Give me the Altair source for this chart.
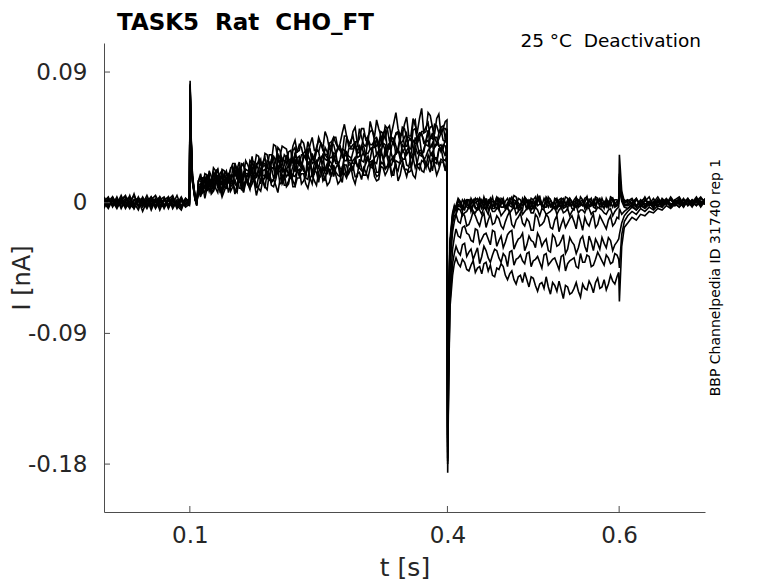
import altair as alt
import pandas as pd

NB = "\u00a0"
TITLE = "TASK5 " + NB + "Rat " + NB + "CHO_FT"
ANNOT = "25 °C " + NB + "Deactivation"
SIDE = "BBP Channelpedia ID 31740 rep 1"
X_TICKS = [0.1, 0.4, 0.6]
Y_TICKS = [0.09, 0, -0.09, -0.18]

# sample times (s) of each segment
T_BASE = [round(0.005 * i, 4) for i in range(20)] + [0.0995]
T_ON = [0.1003, 0.1015, 0.103, 0.106, 0.108]
T_RISE = [round(0.110 + 0.005 * j, 4) for j in range(58)] + [0.3995]
T_RISE_MID = [round(0.1125 + 0.005 * j, 4) for j in range(58)]
T_OFF = [0.4003, 0.4015, 0.403, 0.406, 0.408]
T_TAIL = [round(0.410 + 0.005 * i, 4) for i in range(38)] + [0.5995]
T_TAIL_MID = [round(0.4125 + 0.005 * i, 4) for i in range(38)]
T_END = [0.6003, 0.603, 0.606]
T_POST = [round(0.610 + 0.005 * i, 4) for i in range(19)]

# current values in pA, one list per sweep
BASE = [
    [2, -3, 4, -1, 3, -4, 1, 5, -2, 2, -3, 4, 0, -2, 3, -4, 2, -1, 4, -2, 1],
    [-1, 3, -2, 4, -3, 1, -4, 2, 3, -1, 5, -2, 1, -3, 2, 4, -4, 1, -2, 3, 0],
    [3, -2, 1, -4, 2, 5, -3, 0, -5, 3, -1, 2, -3, 4, -2, 1, 3, -4, 2, -1, 2],
    [-3, 1, 4, -2, 0, -3, 3, -1, 2, -6, 1, 4, -2, 3, -4, 2, -1, 5, -3, 1, -1],
    [1, 4, -3, 2, -1, 3, -2, 6, -3, 1, -4, 2, 5, -1, -3, 3, -2, 1, -4, 2, 1],
    [0, -4, 2, -1, 5, -2, 1, -3, 4, -2, 3, -5, 2, 1, -2, 4, -3, 2, 1, -3, -1],
    [-2, 2, -1, 3, -4, 2, 4, -2, 1, -3, 2, -1, 3, -5, 2, -2, 4, -1, -3, 2, 0],
    [4, -1, 2, -3, 1, -2, 5, -4, 2, 3, -2, 1, -3, 2, 4, -3, 1, -2, 3, -1, 2],
    [-4, 3, -2, 1, 3, -1, -3, 2, -2, 4, -1, 3, -4, 1, -2, 2, 5, -3, 2, -1, -2],
    [1, -2, 3, -3, 2, 4, -1, -4, 3, -1, 2, -3, 1, 4, -2, -1, 3, -2, -5, 3, 1],
]
ON = [
    [84, 46, 19, 5, -1], [80, 43, 17, 4, 0], [78, 41, 16, 3, -2], [82, 44, 18, 5, 1],
    [76, 40, 15, 2, -1], [79, 42, 17, 4, 0], [81, 44, 18, 3, -2], [77, 41, 16, 2, 1],
    [75, 39, 14, 3, -1], [80, 42, 15, 4, 0],
]
RISE = [
    [15, 11, 19, 14, 22, 14, 22, 19, 27, 19, 25, 19, 29, 24, 32, 25, 33, 28, 39,
     32, 38, 30, 39, 35, 43, 34, 40, 36, 45, 38, 45, 36, 45, 41, 54, 41, 49, 41,
     51, 43, 56, 45, 51, 43, 51, 48, 62, 46, 54, 46, 58, 49, 65, 49, 60, 47, 61, 51, 57],
    [12, 17, 11, 18, 22, 15, 20, 15, 25, 23, 19, 29, 22, 21, 29, 28, 23, 33, 28,
     36, 29, 35, 27, 35, 38, 32, 36, 32, 43, 36, 33, 42, 41, 36, 46, 39, 46, 39,
     45, 39, 49, 43, 40, 48, 51, 43, 48, 43, 51, 45, 55, 43, 49, 52, 45, 54, 48, 53, 51],
    [15, 11, 19, 11, 17, 20, 14, 20, 14, 23, 27, 20, 18, 28, 23, 27, 20, 30, 29,
     26, 33, 29, 36, 27, 33, 30, 37, 28, 35, 37, 31, 41, 34, 39, 32, 42, 37, 42,
     38, 45, 37, 44, 41, 48, 37, 45, 47, 41, 45, 38, 50, 43, 48, 42, 52, 45, 44, 51, 49],
    [10, 17, 11, 15, 20, 12, 19, 16, 24, 16, 15, 23, 22, 20, 27, 19, 29, 24, 23,
     32, 26, 24, 31, 31, 24, 36, 28, 28, 35, 33, 29, 38, 33, 37, 29, 37, 40, 34,
     40, 33, 40, 43, 36, 40, 34, 44, 39, 47, 39, 43, 38, 45, 47, 40, 44, 38, 48, 43, 47],
    [15, 9, 14, 12, 19, 13, 11, 19, 18, 23, 15, 18, 24, 15, 23, 25, 20, 28, 20,
     27, 20, 30, 25, 29, 24, 33, 24, 29, 31, 27, 35, 24, 34, 30, 36, 29, 35, 31,
     38, 32, 30, 38, 37, 41, 33, 39, 33, 44, 37, 35, 43, 41, 34, 43, 38, 45, 40, 37, 43],
    [8, 14, 17, 9, 14, 12, 19, 14, 19, 11, 23, 15, 19, 16, 23, 22, 16, 24, 21,
     26, 22, 20, 29, 22, 27, 20, 29, 27, 23, 33, 25, 31, 27, 24, 33, 32, 27, 36,
     29, 34, 37, 28, 34, 30, 39, 33, 36, 30, 38, 36, 34, 40, 32, 42, 34, 39, 39, 36, 41],
    [12, 7, 14, 13, 10, 18, 10, 16, 13, 19, 10, 19, 22, 15, 18, 14, 21, 24, 17,
     23, 19, 26, 18, 23, 25, 18, 28, 23, 30, 22, 27, 24, 29, 22, 32, 26, 29, 25,
     32, 27, 25, 31, 35, 27, 31, 26, 34, 34, 30, 38, 29, 34, 36, 32, 38, 31, 37, 40, 34],
    [9, 13, 8, 15, 14, 8, 13, 18, 11, 11, 18, 15, 10, 18, 18, 15, 21, 14, 19,
     22, 16, 19, 15, 22, 22, 17, 27, 20, 17, 25, 20, 27, 24, 18, 26, 28, 22, 26,
     22, 29, 25, 28, 21, 32, 25, 30, 24, 29, 34, 25, 31, 28, 33, 26, 33, 28, 36, 30, 33],
    [12, 7, 11, 6, 15, 10, 8, 15, 14, 7, 15, 14, 11, 17, 10, 16, 20, 12, 16,
     13, 20, 13, 19, 22, 13, 19, 17, 22, 14, 21, 24, 18, 21, 18, 26, 20, 25, 18,
     24, 19, 28, 22, 19, 27, 25, 19, 29, 27, 23, 21, 32, 25, 29, 24, 29, 31, 26, 29, 31],
    [7, 12, 10, 7, 14, 9, 12, 7, 14, 12, 9, 16, 9, 14, 11, 16, 9, 15, 12,
     16, 12, 15, 11, 17, 20, 13, 17, 15, 21, 15, 12, 20, 19, 15, 20, 22, 17, 20,
     16, 21, 24, 18, 16, 24, 22, 19, 27, 19, 23, 24, 19, 26, 22, 28, 21, 26, 23, 28, 26],
]
RISE_MID = [
    [20, 10, 17, 24, 15, 23, 14, 23, 27, 19, 27, 18, 27, 33, 26, 34, 26, 40,
     30, 39, 37, 29, 43, 36, 41, 33, 45, 36, 41, 49, 37, 45, 37, 48, 46, 41, 52, 44,
     51, 41, 50, 57, 46, 53, 42, 55, 51, 47, 59, 46, 53, 58, 48, 62, 52, 58, 47, 56],
    [10, 18, 22, 15, 23, 12, 21, 24, 18, 28, 18, 26, 32, 25, 21, 31, 33, 25,
     38, 29, 27, 36, 34, 40, 31, 42, 30, 38, 41, 33, 41, 45, 38, 33, 46, 43, 38, 51,
     40, 46, 50, 39, 49, 44, 53, 40, 49, 52, 45, 43, 57, 45, 49, 55, 44, 53, 52, 44],
    [15, 20, 11, 19, 10, 22, 19, 16, 27, 16, 26, 20, 29, 17, 28, 27, 23, 32,
     34, 26, 31, 25, 38, 27, 33, 37, 27, 36, 41, 33, 30, 40, 38, 31, 44, 37, 42, 35,
     47, 43, 36, 45, 39, 50, 37, 44, 48, 42, 48, 37, 51, 48, 41, 48, 53, 41, 48, 51],
    [7, 17, 16, 12, 23, 15, 22, 13, 22, 25, 16, 22, 20, 27, 30, 18, 28, 24,
     30, 22, 33, 30, 21, 32, 34, 26, 31, 37, 28, 30, 40, 28, 38, 36, 29, 38, 41, 35,
     33, 44, 40, 33, 46, 36, 41, 44, 34, 49, 39, 44, 37, 48, 43, 39, 48, 40, 51, 42],
    [18, 7, 14, 21, 11, 19, 10, 18, 22, 14, 21, 12, 21, 26, 19, 26, 17, 31,
     21, 30, 27, 20, 33, 26, 31, 23, 34, 26, 30, 38, 26, 34, 25, 37, 34, 29, 40, 32,
     39, 29, 38, 44, 34, 40, 30, 43, 38, 35, 46, 33, 41, 45, 35, 50, 39, 45, 35, 44],
    [8, 15, 19, 11, 19, 7, 16, 19, 13, 23, 12, 20, 25, 18, 13, 23, 26, 17,
     30, 21, 18, 28, 25, 31, 22, 33, 20, 29, 31, 22, 31, 34, 27, 22, 35, 31, 27, 39,
     28, 34, 38, 27, 37, 32, 41, 28, 37, 40, 33, 31, 45, 33, 37, 43, 32, 41, 40, 32],
    [13, 17, 8, 15, 7, 18, 15, 11, 22, 10, 20, 14, 23, 10, 21, 19, 15, 24,
     26, 18, 23, 17, 30, 18, 24, 28, 18, 27, 31, 23, 20, 30, 28, 20, 33, 26, 31, 24,
     35, 31, 24, 33, 27, 38, 25, 32, 36, 30, 36, 25, 39, 36, 29, 36, 41, 29, 36, 39],
    [4, 15, 13, 8, 19, 11, 17, 8, 16, 20, 10, 15, 13, 20, 22, 10, 19, 16,
     21, 13, 24, 21, 12, 22, 25, 16, 22, 27, 18, 20, 29, 18, 27, 25, 18, 27, 30, 24,
     21, 32, 28, 21, 34, 24, 28, 32, 22, 36, 26, 32, 24, 35, 31, 26, 35, 27, 38, 29],
    [5, 12, 16, 8, 15, 4, 12, 15, 9, 18, 7, 15, 20, 12, 8, 17, 19, 11,
     23, 14, 11, 21, 18, 23, 15, 25, 13, 21, 23, 15, 23, 26, 19, 14, 26, 23, 18, 30,
     19, 25, 29, 18, 28, 23, 31, 19, 28, 30, 23, 22, 35, 23, 28, 33, 22, 31, 30, 22],
    [12, 3, 14, 9, 16, 6, 16, 13, 6, 19, 8, 13, 18, 5, 16, 11, 20, 16,
     7, 19, 12, 21, 11, 17, 20, 10, 19, 12, 25, 18, 14, 23, 13, 22, 17, 25, 13, 21,
     24, 17, 28, 15, 25, 19, 27, 23, 15, 27, 18, 25, 17, 27, 21, 25, 31, 19, 28, 23],
]
OFF = [
    [-172, -88, -34, -10, -5], [-168, -82, -30, -8, -3], [-160, -85, -28, -12, -6],
    [-165, -78, -25, -7, -2], [-155, -75, -30, -9, -5], [-162, -80, -32, -14, -9],
    [-176, -100, -45, -20, -13], [-180, -110, -60, -32, -24], [-178, -115, -68, -42, -35],
    [-186, -120, -72, -50, -42],
]
TAIL = [
    [-2, 1, -4, 2, -1, 3, -3, 0, 2, -4, 1, 3, -2, -1, 4, -3, 1, -2, 2, 5,
     -1, -3, 2, 0, -2, 3, -4, 1, 2, -1, 3, -2, 0, 2, -3, 1, 4, -1, 2],
    [-5, -2, 1, -3, 2, -4, 0, 3, -2, 1, -5, 2, 0, -3, 1, -1, 3, -4, 2, -2,
     0, 4, -3, 1, -2, 2, -1, -4, 3, 0, -2, 1, -3, 2, 0, -1, 3, -2, 1],
    [-3, 0, -5, 2, -2, 1, -4, 2, 0, -3, 3, -1, -4, 2, 1, -2, 4, -3, 0, 2,
     -3, 1, -1, 3, -2, -4, 2, 0, -3, 4, -1, 2, -2, 1, 3, -3, 0, 2, -1],
    [-6, -3, 0, -4, 1, -2, 2, -5, 1, -1, 2, -3, 3, 0, -4, 2, -1, 1, -3, 3,
     -2, 0, 2, -4, 1, -1, 3, -2, 0, 1, -4, 2, -1, 3, -2, 0, 1, -3, 2],
    [-4, -1, 2, -3, 0, -5, 1, -2, 3, -1, -3, 1, -2, 4, -1, -3, 0, 2, -4, 1,
     -1, 3, -2, 0, 2, -3, 1, -1, 4, -2, 0, -3, 2, 1, -1, 3, -2, 0, 1],
    [-8, -5, -7, -3, -6, -4, -8, -5, -2, -6, -4, -7, -3, -5, -8, -4, -6, -3, -7, -5,
     -4, -8, -6, -3, -5, -7, -4, -6, -2, -5, -7, -4, -6, -3, -5, -8, -4, -6, -3],
    [-8, -14, -9, -15, -6, -13, -10, -17, -8, -14, -11, -18, -9, -15, -12, -7, -16, -13, -19, -10,
     -15, -8, -17, -12, -20, -11, -14, -9, -18, -13, -10, -16, -8, -15, -12, -18, -9, -14, -11],
    [-18, -24, -16, -22, -27, -19, -25, -21, -29, -20, -26, -31, -22, -19, -28, -24, -33, -23, -27, -21,
     -30, -25, -34, -24, -29, -22, -32, -27, -35, -25, -30, -23, -33, -28, -24, -31, -26, -29, -25],
    [-30, -36, -28, -34, -39, -31, -37, -33, -41, -32, -38, -35, -44, -33, -39, -36, -42, -34, -40, -37,
     -45, -35, -41, -38, -46, -36, -42, -39, -44, -35, -41, -37, -43, -34, -40, -36, -42, -35, -39],
    [-38, -44, -41, -47, -40, -45, -49, -41, -43, -51, -46, -44, -53, -47, -56, -50, -48, -58, -52, -61,
     -55, -51, -63, -57, -54, -66, -58, -62, -55, -65, -59, -54, -62, -52, -58, -60, -50, -56, -48],
]
TAIL_MID = [
    [3, -3, 1, -5, 2, -1, 4, -2, -4, 3, 0, -3, 2, 5, -2, 1, -4, 3, -1, 2,
     -3, 4, -1, -4, 2, 0, 3, -3, 1, -2, 4, -1, -3, 2, 0, -4, 3, 1],
    [-1, -6, 2, 0, -3, 3, -2, -5, 1, -1, 3, -4, -2, 2, -5, 1, 0, -3, 4, -1,
     -4, 2, -2, 3, -3, -1, 1, -5, 2, -2, 0, 3, -4, 1, -1, -3, 2, -1],
    [1, -4, 2, -6, 0, 3, -2, -1, 4, -4, 1, -2, 3, -3, 0, -5, 2, 1, -3, 4,
     -2, 0, -4, 2, 1, -3, 3, -1, -2, 2, -4, 0, 3, -2, -1, 1, -3, 2],
    [-2, 2, -3, -1, 3, -4, 0, 2, -2, 4, -3, 1, -1, -4, 3, -2, 2, -5, 1, 0,
     3, -3, -1, 2, -4, 4, -2, 1, -3, 2, -1, -2, 4, -3, 1, -1, 3, -2],
    [2, -3, -1, 3, -4, -2, 2, 0, -3, 4, -1, -4, 2, 0, -2, 3, -5, 1, -2, 4,
     -3, 1, 0, -4, 3, -1, -2, 2, -3, 1, 4, -2, -1, 3, -4, 0, 2, -2],
    [-4, -9, -6, -2, -7, -5, -3, -8, -6, -4, -9, -5, -7, -2, -6, -8, -4, -7, -3, -9,
     -5, -7, -4, -8, -3, -6, -9, -4, -7, -5, -3, -8, -6, -4, -7, -5, -9, -4],
    [-13, -7, -16, -11, -9, -16, -7, -12, -15, -9, -16, -13, -6, -17, -10, -14, -11, -19, -8, -16,
     -13, -10, -18, -9, -15, -17, -11, -13, -8, -19, -14, -11, -17, -9, -15, -12, -16, -10],
    [-23, -17, -21, -26, -18, -28, -22, -25, -19, -30, -23, -27, -20, -32, -25, -21, -29, -26, -31, -24,
     -27, -33, -22, -30, -26, -35, -24, -29, -31, -23, -34, -27, -25, -32, -28, -24, -33, -27],
    [-34, -29, -37, -32, -35, -42, -30, -38, -36, -33, -41, -37, -34, -43, -38, -40, -35, -44, -39, -41,
     -36, -43, -39, -42, -37, -47, -40, -38, -45, -41, -36, -44, -39, -37, -43, -38, -41, -36],
    [-42, -39, -46, -43, -48, -44, -42, -47, -50, -45, -42, -50, -49, -53, -51, -55, -53, -51, -57, -56,
     -59, -58, -55, -61, -60, -57, -63, -59, -61, -56, -60, -57, -55, -59, -53, -56, -54, -51],
]
END = [
    [33, 8, 1], [18, 5, -1], [14, 3, 2], [20, 6, 0], [10, 2, -2],
    [12, 1, -3], [-4, -8, -6], [-22, -14, -9], [-45, -22, -13], [-68, -30, -17],
]
POST = [
    [2, -1, 3, -2, 1, 4, -3, 0, 2, -1, 3, -2, 1, -3, 2, 0, 4, -1, 2],
    [-1, 2, -3, 1, 3, -2, 0, 4, -1, 2, -3, 1, -1, 3, -2, 2, 0, -2, 3],
    [0, -3, 2, -1, 4, -2, 1, -3, 3, 0, -2, 2, 4, -1, 1, -3, 2, 1, -1],
    [1, 3, -2, 2, -1, 1, -4, 2, 0, 3, -1, -2, 2, 0, 3, -1, 1, 4, 0],
    [-2, 0, 3, -3, 2, -1, 3, -2, 1, -1, 4, 0, -3, 2, 1, -2, 3, -1, 2],
    [-4, -1, -3, 1, -2, 0, -1, 2, -2, 1, -3, 2, 0, -1, 3, -2, 1, 0, -1],
    [-4, -2, -5, -1, -3, 0, -2, 1, -3, 2, -1, 0, 3, -2, 1, -1, 2, -3, 1],
    [-6, -3, -5, -2, -4, -1, -3, 1, -2, 0, 2, -1, 1, -3, 2, 0, -2, 3, 1],
    [-9, -6, -8, -4, -6, -3, -5, -2, -3, 0, -2, 1, -1, 2, -2, 0, 3, -1, 1],
    [-14, -10, -12, -8, -9, -6, -7, -4, -5, -2, -4, -1, -3, 0, -1, 2, -2, 1, 0],
]

SEGMENTS = [(T_BASE, BASE), (T_ON, ON), (T_RISE, RISE), (T_RISE_MID, RISE_MID),
            (T_OFF, OFF), (T_TAIL, TAIL), (T_TAIL_MID, TAIL_MID), (T_END, END),
            (T_POST, POST)]

rows = []
for k in range(len(BASE)):
    for times, vals in SEGMENTS:
        for t, v in zip(times, vals[k]):
            rows.append({"t": t, "i": v / 1000.0, "sweep": k})
df = pd.DataFrame(rows).sort_values(["sweep", "t"]).reset_index(drop=True)

W, H = 601, 469
FONT = "DejaVu Sans"
AX = "#4d4d4d"
TXT = "#262626"

xscale = alt.Scale(domain=[0, 0.7], nice=False, zero=False)
yscale = alt.Scale(domain=[-0.213, 0.11], nice=False, zero=False)

lines = alt.Chart(df).mark_line(color="black", strokeWidth=1.6, clip=True).encode(
    x=alt.X("t:Q", scale=xscale, axis=alt.Axis(
        values=X_TICKS, labelExpr="format(datum.value, '.1f')", title="t [s]",
        ticks=False, tickSize=0, grid=False, labelPadding=12, labelFontSize=23,
        labelFont=FONT, labelColor=TXT, titleFont=FONT, titleFontSize=25,
        titleFontWeight="normal", titleColor=TXT, titleY=63, titleBaseline="alphabetic",
        domainColor=AX, domainWidth=1)),
    y=alt.Y("i:Q", scale=yscale, axis=alt.Axis(
        values=Y_TICKS,
        labelExpr="datum.value == 0 ? '0' : (datum.value < 0 ? '-' : '') + format(abs(datum.value), '.2f')",
        title="I [nA]", ticks=False, tickSize=0, grid=False, labelPadding=17,
        labelFontSize=23, labelFont=FONT, labelColor=TXT, titleFont=FONT,
        titleFontSize=24, titleFontWeight="normal", titleColor=TXT, titleAngle=270,
        titleX=-82, titleY=H / 2, titleAlign="center", titleBaseline="middle",
        domainColor=AX, domainWidth=1)),
    detail="sweep:N",
    order="t:Q",
)

xt = alt.Chart(pd.DataFrame({"t": X_TICKS})).mark_rule(color=AX, strokeWidth=1).encode(
    x=alt.X("t:Q", scale=xscale), y=alt.value(H), y2=alt.value(H - 6))
yt = alt.Chart(pd.DataFrame({"i": Y_TICKS})).mark_rule(color=AX, strokeWidth=1).encode(
    y=alt.Y("i:Q", scale=yscale), x=alt.value(0), x2=alt.value(6))

title = alt.Chart(pd.DataFrame({"label": [TITLE]})).mark_text(
    align="left", baseline="alphabetic", fontSize=23, fontWeight="bold", font=FONT,
    color="black").encode(x=alt.value(13), y=alt.value(-13), text="label:N")

annot = alt.Chart(pd.DataFrame({"label": [ANNOT]})).mark_text(
    align="right", baseline="alphabetic", fontSize=18.5, font=FONT, color="black"
).encode(x=alt.value(597), y=alt.value(4), text="label:N")

side = alt.Chart(pd.DataFrame({"label": [SIDE]})).mark_text(
    align="center", baseline="middle", angle=270, fontSize=14, font=FONT, color="black"
).encode(x=alt.value(612), y=alt.value(H / 2), text="label:N")

chart = alt.layer(lines, xt, yt, title, annot, side).properties(
    width=W, height=H,
    autosize=alt.AutoSizeParams(type="none"),
    padding={"left": 96, "top": 35, "right": 65, "bottom": 70},
).configure_view(strokeWidth=0)

chart.save("out.html", embed_options={"renderer": "svg", "actions": False})
